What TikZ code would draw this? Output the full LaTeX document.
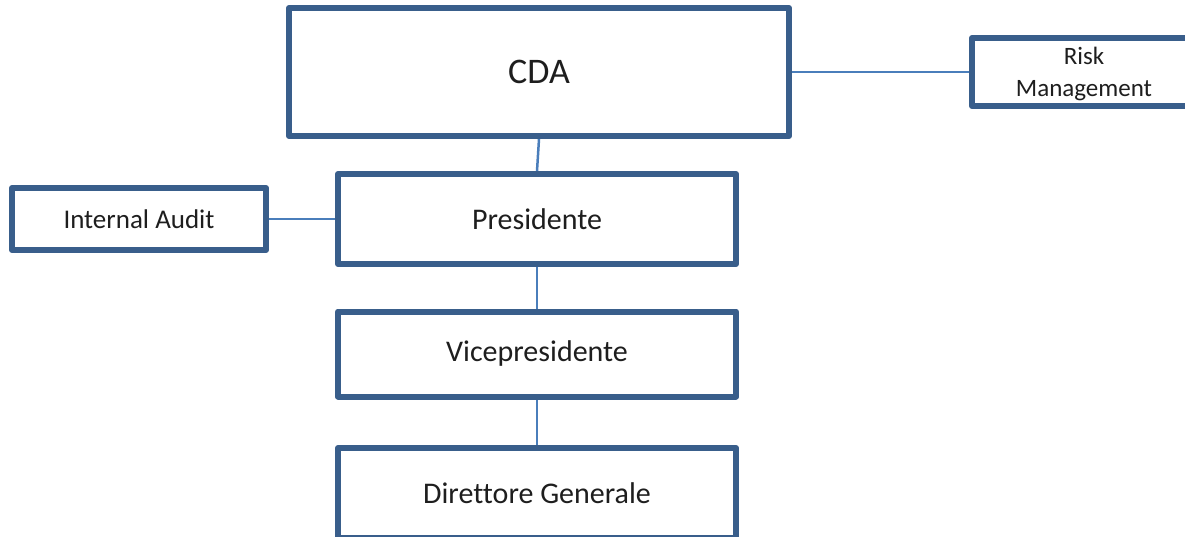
\documentclass[tikz,border=0pt]{standalone}
\usepackage{fontspec}
\setmainfont[Ligatures=NoCommon]{Carlito}
\usetikzlibrary{backgrounds}
\definecolor{boxblue}{RGB}{57,94,139}
\definecolor{connblue}{RGB}{74,126,187}
\definecolor{txt}{RGB}{30,30,30}
\tikzset{
  orgbox/.style={draw=boxblue, line width=6pt, line join=round, fill=white,
    rectangle, inner sep=0pt, text=txt, align=center},
  conn/.style={draw=connblue, line width=2.5pt}
}
\begin{document}
\begin{tikzpicture}[x=1pt,y=-1pt]
\useasboundingbox (0,0) rectangle (1185,537);
\clip (0,0) rectangle (1185,537);
\node[orgbox, minimum width=500pt, minimum height=128pt, font=\fontsize{36}{40}\selectfont] (cda) at (539,72) {CDA};
\node[orgbox, minimum width=224pt, minimum height=68pt, text depth=0pt, font=\fontsize{25}{32}\selectfont] (risk) at (1084,72) {Risk\\Management};
\node[orgbox, minimum width=254pt, minimum height=62pt, font=\fontsize{27}{30}\selectfont] (audit) at (139,219) {Internal Audit};
\node[orgbox, minimum width=398pt, minimum height=90pt, font=\fontsize{30}{34}\selectfont] (pres) at (537,219) {Presidente};
\node[orgbox, minimum width=398pt, minimum height=85pt, font=\fontsize{30}{34}\selectfont] (vice) at (537,354) {Vicepresidente};
\node[orgbox, minimum width=398pt, minimum height=90pt, font=\fontsize{30}{34}\selectfont] (dg) at (537,493) {Direttore Generale};
\begin{scope}[on background layer]
\draw[conn] (cda.south) -- (pres.north);
\draw[conn] (cda.east) -- (risk.west);
\draw[conn] (audit.east) -- (pres.west);
\draw[conn] (pres.south) -- (vice.north);
\draw[conn] (vice.south) -- (dg.north);
\end{scope}
\end{tikzpicture}
\end{document}
